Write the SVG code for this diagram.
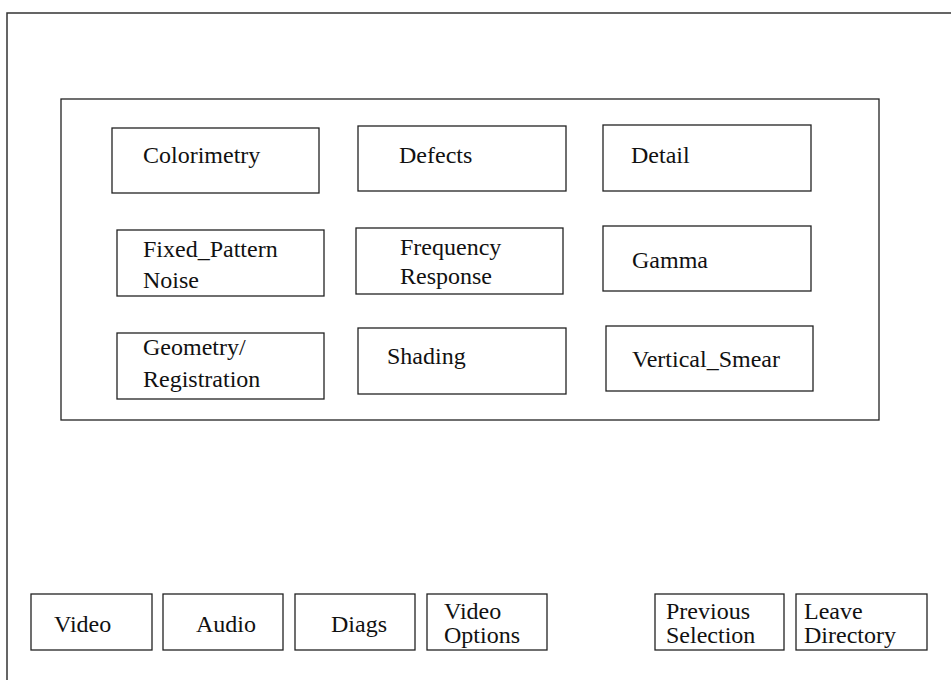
<svg xmlns="http://www.w3.org/2000/svg" width="951" height="680" viewBox="0 0 951 680">
  <style>
    .box { fill: #ffffff; stroke: #222222; stroke-width: 1.3; }
    .frame { fill: none; stroke: #333333; stroke-width: 1.5; }
    .lbl { font-family: "Liberation Serif", "Times New Roman", serif; font-size: 24px; fill: #111111; }
  </style>
  <rect width="951" height="680" fill="#ffffff"/>

  <!-- outer window frame (open to the right and bottom) -->
  <path class="frame" d="M7,680 V13 H951"/>

  <!-- panel holding the test categories -->
  <rect id="panel" class="box" x="61" y="99" width="818" height="321"/>

  <g id="colorimetry">
    <rect class="box" x="112" y="128" width="207" height="65"/>
    <text class="lbl" x="143" y="163">Colorimetry</text>
  </g>
  <g id="defects">
    <rect class="box" x="358" y="126" width="208" height="65"/>
    <text class="lbl" x="399" y="163">Defects</text>
  </g>
  <g id="detail">
    <rect class="box" x="603" y="125" width="208" height="66"/>
    <text class="lbl" x="631" y="163">Detail</text>
  </g>

  <g id="fixed-pattern-noise">
    <rect class="box" x="117" y="230" width="207" height="66"/>
    <text class="lbl" x="143" y="257">Fixed_Pattern</text>
    <text class="lbl" x="143" y="288">Noise</text>
  </g>
  <g id="frequency-response">
    <rect class="box" x="356" y="228" width="207" height="66"/>
    <text class="lbl" x="400" y="255">Frequency</text>
    <text class="lbl" x="400" y="284">Response</text>
  </g>
  <g id="gamma">
    <rect class="box" x="603" y="226" width="208" height="65"/>
    <text class="lbl" x="632" y="268">Gamma</text>
  </g>

  <g id="geometry-registration">
    <rect class="box" x="117" y="333" width="207" height="66"/>
    <text class="lbl" x="143" y="355">Geometry/</text>
    <text class="lbl" x="143" y="387">Registration</text>
  </g>
  <g id="shading">
    <rect class="box" x="358" y="328" width="208" height="66"/>
    <text class="lbl" x="387" y="364">Shading</text>
  </g>
  <g id="vertical-smear">
    <rect class="box" x="606" y="326" width="207" height="65"/>
    <text class="lbl" x="632" y="367">Vertical_Smear</text>
  </g>

  <!-- bottom button row -->
  <g id="btn-video">
    <rect class="box" x="31" y="594" width="121" height="56"/>
    <text class="lbl" x="54" y="632">Video</text>
  </g>
  <g id="btn-audio">
    <rect class="box" x="163" y="594" width="120" height="56"/>
    <text class="lbl" x="196" y="632">Audio</text>
  </g>
  <g id="btn-diags">
    <rect class="box" x="295" y="594" width="120" height="56"/>
    <text class="lbl" x="331" y="632">Diags</text>
  </g>
  <g id="btn-video-options">
    <rect class="box" x="427" y="594" width="120" height="56"/>
    <text class="lbl" x="444" y="619">Video</text>
    <text class="lbl" x="444" y="643">Options</text>
  </g>
  <g id="btn-previous-selection">
    <rect class="box" x="655" y="594" width="129" height="56"/>
    <text class="lbl" x="666" y="619">Previous</text>
    <text class="lbl" x="666" y="643">Selection</text>
  </g>
  <g id="btn-leave-directory">
    <rect class="box" x="796" y="594" width="131" height="56"/>
    <text class="lbl" x="804" y="619">Leave</text>
    <text class="lbl" x="804" y="643">Directory</text>
  </g>

  <!-- no connectors in this layout -->
  <g id="connectors"/>
</svg>
